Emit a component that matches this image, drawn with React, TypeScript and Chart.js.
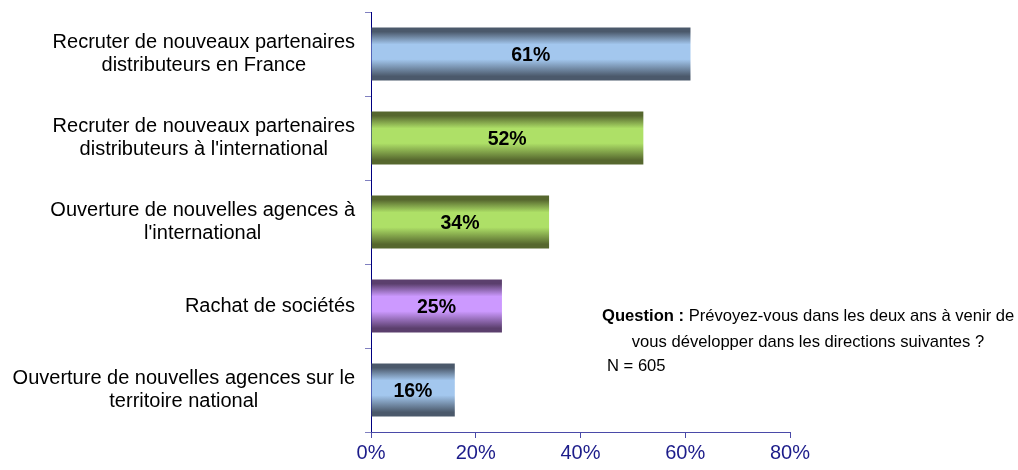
import React, { useEffect, useRef } from "react";
import { Chart, registerables } from "chart.js";

Chart.register(...registerables);

const categories: string[][] = [
  ["Recruter de nouveaux partenaires", "distributeurs en France"],
  ["Recruter de nouveaux partenaires", "distributeurs à l'international"],
  ["Ouverture de nouvelles agences à", "l'international"],
  ["Rachat de sociétés"],
  ["Ouverture de nouvelles agences sur le", "territoire national"],
];
const values: number[] = [61, 52, 34, 25, 16];
const xTicks: number[] = [0, 20, 40, 60, 80];
const barEdge: string[] = ["#4b596b", "#56672e", "#56672e", "#5b3f6d", "#4b596b"];
const barMid: string[] = ["#a3c7ee", "#aee067", "#aee067", "#cc99ff", "#a3c7ee"];

const BAR_FRAC = 0.63;
const FONT = "Arial, 'Liberation Sans', sans-serif";

function gradFor(ctx: any) {
  const chart = ctx.chart;
  const i = ctx.dataIndex;
  const y = chart.scales && chart.scales.y;
  if (!y || !chart.chartArea || i === undefined) return barMid[i || 0];
  const c = y.getPixelForValue(i);
  const h = ((y.height / categories.length) * BAR_FRAC) / 2;
  const g = chart.ctx.createLinearGradient(0, c - h, 0, c + h);
  g.addColorStop(0, barEdge[i]);
  g.addColorStop(0.08, barEdge[i]);
  g.addColorStop(0.32, barMid[i]);
  g.addColorStop(0.6, barMid[i]);
  g.addColorStop(0.92, barEdge[i]);
  g.addColorStop(1, barEdge[i]);
  return g;
}

const labelsPlugin = {
  id: "customLabels",
  afterDraw(chart: any) {
    const ctx = chart.ctx;
    const y = chart.scales.y;
    const x = chart.scales.x;
    ctx.save();
    // category labels
    ctx.fillStyle = "#000000";
    ctx.font = `20px ${FONT}`;
    ctx.textBaseline = "alphabetic";
    ctx.textAlign = "center";
    const lineH = 23;
    categories.forEach((lines, i) => {
      const cy = y.getPixelForValue(i);
      const maxW = Math.max(...lines.map((l) => ctx.measureText(l).width));
      const cx = 355 - maxW / 2;
      const off = lines.length > 1 ? 5.0 : 5.7;
      lines.forEach((l, k) =>
        ctx.fillText(l, cx, cy + off + (k - (lines.length - 1) / 2) * lineH)
      );
    });
    // value labels
    ctx.font = `bold 19.5px ${FONT}`;
    values.forEach((v, i) => {
      const cx = (x.getPixelForValue(0) + x.getPixelForValue(v)) / 2;
      const cy = y.getPixelForValue(i);
      ctx.fillText(`${v}%`, cx, cy + 6.7);
    });
    // note
    ctx.textAlign = "left";
    ctx.font = `bold 16.6px ${FONT}`;
    const bold = "Question :";
    const bw = ctx.measureText(bold + " ").width;
    ctx.fillText(bold, 602, 321);
    ctx.font = `16.6px ${FONT}`;
    ctx.fillText("Prévoyez-vous dans les deux ans à venir de", 602 + bw, 321);
    ctx.textAlign = "center";
    ctx.fillText("vous développer dans les directions suivantes ?", 808, 347);
    ctx.textAlign = "left";
    ctx.fillText("N = 605", 607, 371);
    ctx.restore();
  },
};

export default function App() {
  const ref = useRef<HTMLCanvasElement>(null);
  useEffect(() => {
    document.body.style.margin = "0";
    const chart = new Chart(ref.current as HTMLCanvasElement, {
      type: "bar",
      data: {
        labels: categories.map((c) => c.join(" ")),
        datasets: [
          {
            data: values,
            backgroundColor: gradFor as any,
            borderWidth: 0,
            barPercentage: BAR_FRAC,
            categoryPercentage: 1,
          },
        ],
      },
      options: {
        indexAxis: "y",
        animation: false,
        responsive: false,
        events: [],
        layout: { padding: { top: 12, right: 228, left: 0, bottom: 0 } },
        plugins: { legend: { display: false }, tooltip: { enabled: false } },
        scales: {
          y: {
            type: "category",
            offset: true,
            afterFit: (s: any) => {
              s.width = 371;
            },
            border: { display: true, color: "#000080", width: 1 },
            grid: {
              offset: true,
              drawOnChartArea: false,
              drawTicks: true,
              tickLength: 6,
              color: "#8080c0",
            },
            ticks: { display: false },
          },
          x: {
            type: "linear",
            min: 0,
            max: 80,
            afterBuildTicks: (s: any) => {
              s.ticks = xTicks.map((v) => ({ value: v }));
            },
            afterFit: (s: any) => {
              s.height = 38;
            },
            border: { display: true, color: "#4a4aa8", width: 1 },
            grid: {
              drawOnChartArea: false,
              drawTicks: true,
              tickLength: 6,
              color: "#4a4aa8",
            },
            ticks: {
              color: "#1c1c8a",
              font: { family: FONT, size: 20 },
              padding: 3,
              callback: (v: any) => `${v}%`,
            },
          },
        },
      },
      plugins: [labelsPlugin],
    });
    return () => chart.destroy();
  }, []);
  return (
    <div style={{ width: 1018, height: 470 }}>
      <canvas ref={ref} width={1018} height={470} style={{ display: "block" }} />
    </div>
  );
}
